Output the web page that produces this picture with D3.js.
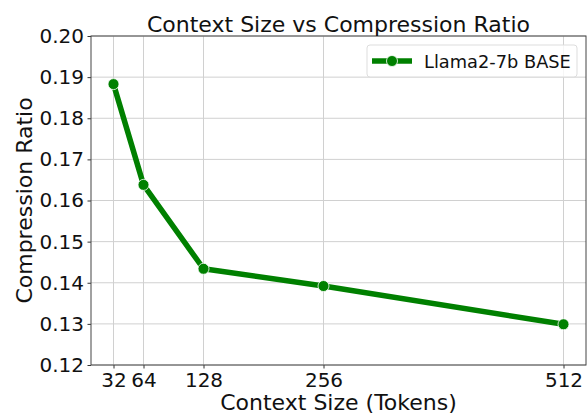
<!DOCTYPE html>
<html><head><meta charset="utf-8">
<script src="https://cdn.jsdelivr.net/npm/d3@7"></script>
<style>body{margin:0;background:#fff}svg{display:block;font-family:"DejaVu Sans",sans-serif}</style>
</head><body><svg id="c" width="588" height="415"></svg>
<script>
const contextSizes = [32, 64, 128, 256, 512];
const compressionRatios = [0.1883, 0.1638, 0.1434, 0.1392, 0.1299];
const yTicks = [0.12, 0.13, 0.14, 0.15, 0.16, 0.17, 0.18, 0.19, 0.20];
const seriesName = "Llama2-7b BASE";

const svg = d3.select("#c");
const L = 91, R = 586, T = 36, B = 365;
const x = d3.scaleLinear().domain([8, 536]).range([L, R]);
const y = d3.scaleLinear().domain([0.12, 0.20]).range([B, T]);
const green = "#008000";

// grid
svg.append("g").selectAll("line").data(contextSizes).join("line")
  .attr("x1", d => x(d)).attr("x2", d => x(d)).attr("y1", T).attr("y2", B)
  .attr("stroke", "#d0d0d0").attr("stroke-width", 1);
svg.append("g").selectAll("line").data(yTicks).join("line")
  .attr("x1", L).attr("x2", R).attr("y1", d => y(d)).attr("y2", d => y(d))
  .attr("stroke", "#d0d0d0").attr("stroke-width", 1);

// axes
const xAxis = svg.append("g").attr("transform", `translate(0,${B})`)
  .call(d3.axisBottom(x).tickValues(contextSizes).tickFormat(d3.format("d")).tickSizeOuter(0).tickSize(3.5).tickPadding(3.5));
const yAxis = svg.append("g").attr("transform", `translate(${L},0)`)
  .call(d3.axisLeft(y).tickValues(yTicks).tickFormat(d3.format(".2f")).tickSizeOuter(0).tickSize(3.5).tickPadding(3.5));
[xAxis, yAxis].forEach(g => {
  g.select(".domain").remove();
  g.selectAll(".tick line").attr("stroke", "#333");
  g.selectAll("text").attr("font-size", 20).attr("fill", "#111").attr("font-family", "DejaVu Sans");
});
xAxis.selectAll("text").attr("dy", "0.74em");

// spines
svg.append("rect").attr("x", L).attr("y", T).attr("width", R - L).attr("height", B - T)
  .attr("fill", "none").attr("stroke", "#444").attr("stroke-width", 1);

// line
const line = d3.line().x((d, i) => x(contextSizes[i])).y(d => y(d));
svg.append("path").datum(compressionRatios).attr("d", line)
  .attr("fill", "none").attr("stroke", green).attr("stroke-width", 5.5).attr("stroke-linejoin", "round");
svg.append("g").selectAll("circle").data(compressionRatios).join("circle")
  .attr("cx", (d, i) => x(contextSizes[i])).attr("cy", d => y(d)).attr("r", 5.5)
  .attr("fill", green).attr("stroke", "#fff").attr("stroke-width", 0.8);

// title & labels
svg.append("text").attr("x", (L + R) / 2).attr("y", 32).attr("text-anchor", "middle")
  .attr("font-size", 22).attr("fill", "#111").text("Context Size vs Compression Ratio");
svg.append("text").attr("x", (L + R) / 2).attr("y", 410).attr("text-anchor", "middle")
  .attr("font-size", 22).attr("fill", "#111").text("Context Size (Tokens)");
svg.append("text").attr("transform", `translate(32,${(T + B) / 2}) rotate(-90)`).attr("text-anchor", "middle")
  .attr("font-size", 22).attr("fill", "#111").text("Compression Ratio");

// legend
const lg = svg.append("g");
lg.append("rect").attr("x", 367).attr("y", 45).attr("width", 210).attr("height", 32).attr("rx", 3)
  .attr("fill", "#fff").attr("fill-opacity", 0.8).attr("stroke", "#ddd");
lg.append("line").attr("x1", 372).attr("x2", 412).attr("y1", 61).attr("y2", 61)
  .attr("stroke", green).attr("stroke-width", 5.5);
lg.append("circle").attr("cx", 392).attr("cy", 61).attr("r", 5.5).attr("fill", green).attr("stroke", "#fff").attr("stroke-width", 0.8);
lg.append("text").attr("x", 424).attr("y", 67.5).attr("font-size", 17.8).attr("fill", "#111").text(seriesName);
</script></body></html>
